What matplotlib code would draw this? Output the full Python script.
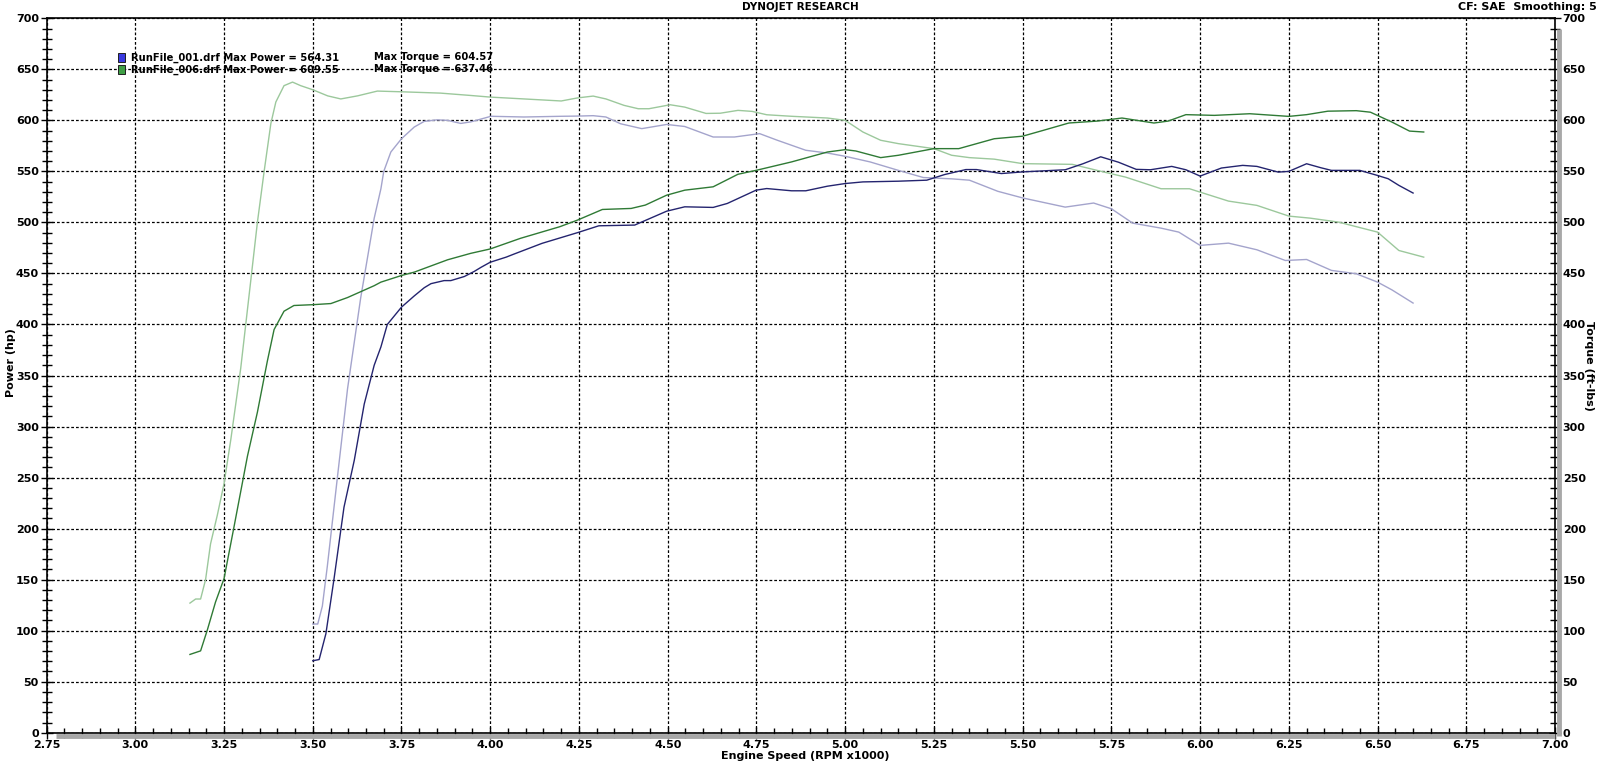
import matplotlib
matplotlib.use("Agg")
import matplotlib.pyplot as plt
import matplotlib.transforms as mtransforms
from matplotlib.patches import Rectangle
from matplotlib.ticker import MultipleLocator, FormatStrFormatter

plt.rcParams['font.family'] = ['DejaVu Sans']
plt.rcParams['font.weight'] = 'bold'

# ---------------- data ----------------
rpm_p001 = [3.50, 3.518, 3.537, 3.56, 3.588, 3.617, 3.645, 3.673, 3.692, 3.71, 3.75, 3.786, 3.814,
            3.833, 3.87, 3.889, 3.927, 3.955, 3.974, 4.00, 4.045, 4.067, 4.146, 4.246, 4.306, 4.407,
            4.497, 4.548, 4.628, 4.668, 4.749, 4.779, 4.849, 4.889, 4.95, 5.00, 5.05, 5.15, 5.23,
            5.28, 5.34, 5.37, 5.44, 5.50, 5.62, 5.67, 5.72, 5.77, 5.82, 5.86, 5.92, 5.96, 6.00,
            6.06, 6.12, 6.16, 6.22, 6.25, 6.30, 6.34, 6.37, 6.45, 6.50, 6.53, 6.56, 6.60]
hp_001 = [70.5, 71.7, 97, 151, 221, 267, 322, 360, 378, 400, 417, 428, 436,
          440, 443, 443, 447, 452, 456, 461, 466, 469, 479.5, 490, 496.7, 497.4,
          511, 515.3, 514.7, 518.6, 531.6, 533.2, 531, 531, 535.5, 538.1, 539.7, 540.4, 541.4,
          546.9, 551.8, 551.8, 547.9, 549.5, 551.6, 557.5, 564.3, 559, 552, 551.6, 554.9, 551.6, 545.4,
          553.3, 555.9, 554.9, 549.3, 550, 557.5, 553.6, 551, 551, 546, 542.8, 536.3, 528.8]

rpm_t001 = [3.50, 3.514, 3.527, 3.541, 3.57, 3.598, 3.635, 3.673, 3.692, 3.70, 3.72, 3.75, 3.786,
            3.814, 3.85, 3.88, 3.917, 3.945, 4.002, 4.095, 4.20, 4.246, 4.29, 4.326, 4.367, 4.427,
            4.497, 4.548, 4.628, 4.688, 4.759, 4.809, 4.889, 4.95, 5.00, 5.07, 5.15, 5.22, 5.30,
            5.35, 5.43, 5.50, 5.62, 5.70, 5.75, 5.81, 5.89, 5.94, 6.00, 6.08, 6.16, 6.24, 6.30,
            6.37, 6.44, 6.50, 6.54, 6.60]
tq_001 = [106.5, 106.5, 124, 163, 252, 337, 426, 504, 533, 550, 569, 582, 593.5,
          599, 600.5, 600, 597, 598.5, 604, 603.3, 604, 604.2, 604.6, 603.3, 596.7, 591.9,
          596, 594, 583.7, 583.7, 587, 580.5, 570.7, 568, 564.8, 559.3, 551, 544, 542.7,
          541.4, 530.5, 524, 515, 519, 513.4, 499.3, 494.4, 490.5, 477.5, 479.7, 473.2, 462.7, 463.7,
          453, 449.7, 441.5, 434, 421]

rpm_p006 = [3.154, 3.184, 3.203, 3.226, 3.25, 3.278, 3.316, 3.344, 3.372, 3.391, 3.419, 3.447,
            3.50, 3.551, 3.598, 3.673, 3.692, 3.75, 3.786, 3.88, 3.945, 4.00, 4.085, 4.196, 4.246,
            4.316, 4.397, 4.437, 4.497, 4.548, 4.628, 4.698, 4.75, 4.849, 4.95, 5.00, 5.03, 5.10,
            5.15, 5.25, 5.32, 5.42, 5.50, 5.558, 5.63, 5.71, 5.78, 5.87, 5.91, 5.96, 6.04, 6.14,
            6.25, 6.30, 6.36, 6.44, 6.48, 6.54, 6.59, 6.63]
hp_006 = [76.7, 80.2, 100.7, 128, 151, 201.5, 271, 314, 364, 395, 413, 418.6,
          419.4, 420.5, 426.4, 438, 441.5, 448, 451.3, 463.4, 469.7, 474, 484.4, 495.8, 502.3,
          512.7, 513.7, 517, 526.7, 531.6, 534.9, 547.2, 551.1, 559.3, 569, 571.3, 570, 563.5,
          565.8, 572.3, 572.3, 582, 584.5, 590.2, 597.4, 599.3, 602.3, 597.4, 599.3, 605.6, 604.9, 606.5,
          603.9, 605.6, 609, 609.5, 608, 598.4, 589.5, 588.6]

rpm_t006 = [3.154, 3.17, 3.184, 3.198, 3.212, 3.231, 3.25, 3.269, 3.297, 3.325, 3.344, 3.363,
            3.382, 3.396, 3.419, 3.443, 3.466, 3.50, 3.542, 3.579, 3.626, 3.682, 3.75, 3.86, 3.945,
            4.00, 4.095, 4.20, 4.246, 4.29, 4.326, 4.377, 4.417, 4.447, 4.507, 4.548, 4.608, 4.648,
            4.698, 4.738, 4.779, 4.849, 4.95, 5.00, 5.05, 5.10, 5.15, 5.25, 5.30, 5.35, 5.42, 5.50,
            5.64, 5.73, 5.79, 5.89, 5.97, 6.00, 6.08, 6.16, 6.25, 6.31, 6.39, 6.50, 6.56, 6.63]
tq_006 = [127, 131, 131, 150, 185, 213, 244, 287, 357, 442, 500, 550,
          597, 618, 634, 637.5, 634, 630, 624, 621, 624, 628.7, 628, 626.7, 624.4,
          622.8, 621, 619, 622, 623.8, 621, 614.7, 611.4, 611.4, 615.3, 613, 606.8, 607,
          609.8, 608.8, 605.5, 604, 602.3, 600, 588.6, 580.5, 577.2, 572.3, 565.8, 563.5, 562, 557.6,
          556.9, 549.3, 544.4, 533, 533, 529.7, 520.9, 516.7, 506.2, 504.2, 500.3, 490.5, 472.5, 466]

legend_files = ["RunFile_001.drf", "RunFile_006.drf"]
legend_power = ["564.31", "609.55"]
legend_torque = ["604.57", "637.46"]

# ---------------- figure ----------------
fig = plt.figure(figsize=(16, 7.63), dpi=100)
ax = fig.add_axes([0.0291, 0.0397, 0.9428, 0.9363])

c_navy = '#24246f'
c_lav = '#a4a4cc'
c_dgreen = '#2f7a35'
c_lgreen = '#9cc89c'

ax.plot(rpm_t006, tq_006, color=c_lgreen, lw=1.0, zorder=3)
ax.plot(rpm_t001, tq_001, color=c_lav, lw=1.0, zorder=3)
ax.plot(rpm_p006, hp_006, color=c_dgreen, lw=1.0, zorder=4)
ax.plot(rpm_p001, hp_001, color=c_navy, lw=1.0, zorder=4)

ax.set_xlim(2.75, 7.00)
ax.set_ylim(0, 700)
ax.xaxis.set_major_locator(MultipleLocator(0.25))
ax.xaxis.set_minor_locator(MultipleLocator(0.05))
ax.yaxis.set_major_locator(MultipleLocator(50))
ax.yaxis.set_minor_locator(MultipleLocator(10))
ax.xaxis.set_major_formatter(FormatStrFormatter('%.2f'))

ax.grid(True, which='major', color='black', linestyle=(0, (2.2, 1.6)), lw=0.9)
ax.set_axisbelow(True)

ax.yaxis.set_ticks_position('both')
ax.tick_params(axis='both', which='major', direction='inout', length=9, width=1,
               labelsize=8, pad=1)
ax.tick_params(axis='both', which='minor', direction='inout', length=7, width=1)
ax.tick_params(axis='y', which='both', left=True, right=True, labelleft=True, labelright=True)
ax.tick_params(axis='x', which='both', top=False)
for lab in ax.get_xticklabels() + ax.get_yticklabels():
    lab.set_fontweight('bold')
for sp in ax.spines.values():
    sp.set_linewidth(1.2)

# grey shadow on bottom and right
off_b = mtransforms.offset_copy(ax.transAxes, fig=fig, x=0, y=-3.5, units='dots')
off_r = mtransforms.offset_copy(ax.transAxes, fig=fig, x=3.5, y=0, units='dots')
ax.plot([0.006, 1.0], [0, 0], transform=off_b, color='#a8a8a8', lw=3.5,
        clip_on=False, zorder=1, solid_capstyle='butt')
ax.plot([1, 1], [-0.004, 0.985], transform=off_r, color='#a8a8a8', lw=3.5,
        clip_on=False, zorder=1, solid_capstyle='butt')

# texts
fig.text(0.5, 0.991, 'DYNOJET RESEARCH', ha='center', va='center', fontsize=7.5, fontweight='bold')
fig.text(0.998, 0.991, 'CF: SAE  Smoothing: 5', ha='right', va='center', fontsize=8, fontweight='bold')
fig.text(0.503, 0.009, 'Engine Speed (RPM x1000)', ha='center', va='center', fontsize=8, fontweight='bold')
fig.text(0.004, 0.525, 'Power (hp)', ha='left', va='center', rotation=90, fontsize=8, fontweight='bold')
fig.text(0.9965, 0.52, 'Torque (ft-lbs)', ha='right', va='center', rotation=270, fontsize=8, fontweight='bold')

# legend
leg_y = [1 - 57.5 / 763, 1 - 69.5 / 763]
icon_fc = ['#3a3ae0', '#3f9f45']
for i in range(2):
    fig.patches.append(Rectangle((118 / 1600, leg_y[i] - 4.5 / 763), 7 / 1600, 9 / 763,
                                 transform=fig.transFigure, facecolor=icon_fc[i],
                                 edgecolor='#202020', lw=0.7, zorder=10))
    fig.text(131 / 1600, leg_y[i], f"{legend_files[i]} Max Power = {legend_power[i]}",
             ha='left', va='center', fontsize=7.2, fontweight='bold', zorder=10)
    fig.text(374 / 1600, leg_y[i], f"Max Torque = {legend_torque[i]}",
             ha='left', va='center', fontsize=7.2, fontweight='bold', zorder=10)

fig.savefig('out.png', dpi=100)
